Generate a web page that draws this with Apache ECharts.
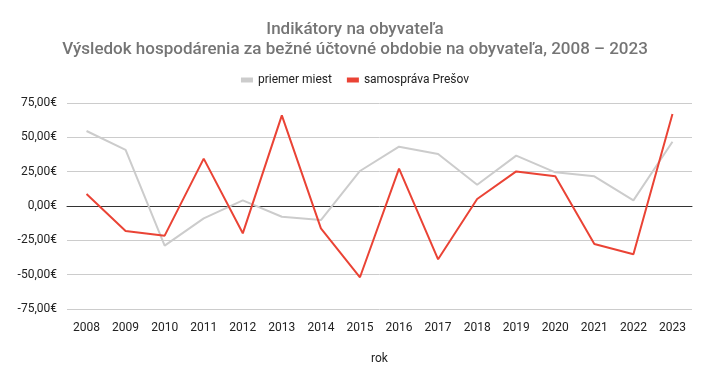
<!DOCTYPE html>
<html><head><meta charset="utf-8">
<script src="https://cdn.jsdelivr.net/npm/echarts@6/dist/echarts.min.js"></script>
<style>html,body{margin:0;padding:0;background:#fff}#c{width:710px;height:380px}</style>
</head><body><div id="c"></div>
<script>
const years = ['2008','2009','2010','2011','2012','2013','2014','2015','2016','2017','2018','2019','2020','2021','2022','2023'];
const priemerMiest = [54.6, 40.8, -28.9, -9.0, 4.1, -7.8, -10.2, 25.5, 43.2, 37.9, 15.5, 36.7, 24.5, 21.6, 4.1, 46.8];
const samospravaPresov = [8.7, -18.2, -21.6, 34.5, -19.9, 66.0, -16.3, -51.9, 27.2, -38.8, 5.1, 25.2, 21.6, -27.7, -35.2, 67.0];
const seriesNames = ['priemer miest', 'samospráva Prešov'];
const titleText = 'Indikátory na obyvateľa\nVýsledok hospodárenia za bežné účtovné obdobie na obyvateľa, 2008 – 2023';
const xName = 'rok';

const chart = echarts.init(document.getElementById('c'), null, {renderer: 'canvas'});
chart.setOption({
  animation: false,
  textStyle: {fontFamily: 'Roboto'},
  title: {
    text: titleText, left: 'center', top: 15,
    textStyle: {fontFamily: 'Roboto', fontSize: 17, fontWeight: 500, color: '#757575', lineHeight: 20}
  },
  legend: {
    top: 69, left: 'center', itemWidth: 12, itemHeight: 5, itemGap: 15,
    icon: 'rect',
    textStyle: {fontFamily: 'Roboto', fontSize: 12, color: '#222'},
    data: seriesNames
  },
  grid: {left: 67, right: 18, top: 103, bottom: 71},
  xAxis: {
    type: 'category', data: years, boundaryGap: true,
    name: xName, nameLocation: 'middle', nameGap: 44,
    nameTextStyle: {fontFamily: 'Roboto', fontSize: 12, color: '#222'},
    axisLine: {onZero: true, lineStyle: {color: '#333', width: 1}},
    axisTick: {show: false},
    axisLabel: {fontFamily: 'Roboto', fontSize: 12, color: '#222', margin: 13}
  },
  yAxis: {
    type: 'value', min: -75, max: 75, interval: 25,
    axisLine: {show: false}, axisTick: {show: false},
    splitLine: {lineStyle: {color: '#cccccc', width: 1}},
    axisLabel: {
      fontFamily: 'Roboto', fontSize: 12, color: '#222', margin: 10,
      formatter: v => v.toFixed(2).replace('.', ',') + '€'
    }
  },
  series: [
    {name: seriesNames[0], type: 'line', data: priemerMiest, symbol: 'none',
     lineStyle: {color: '#cccccc', width: 2}, itemStyle: {color: '#cccccc'}},
    {name: seriesNames[1], type: 'line', data: samospravaPresov, symbol: 'none',
     lineStyle: {color: '#ea4335', width: 2}, itemStyle: {color: '#ea4335'}}
  ]
});
</script></body></html>
